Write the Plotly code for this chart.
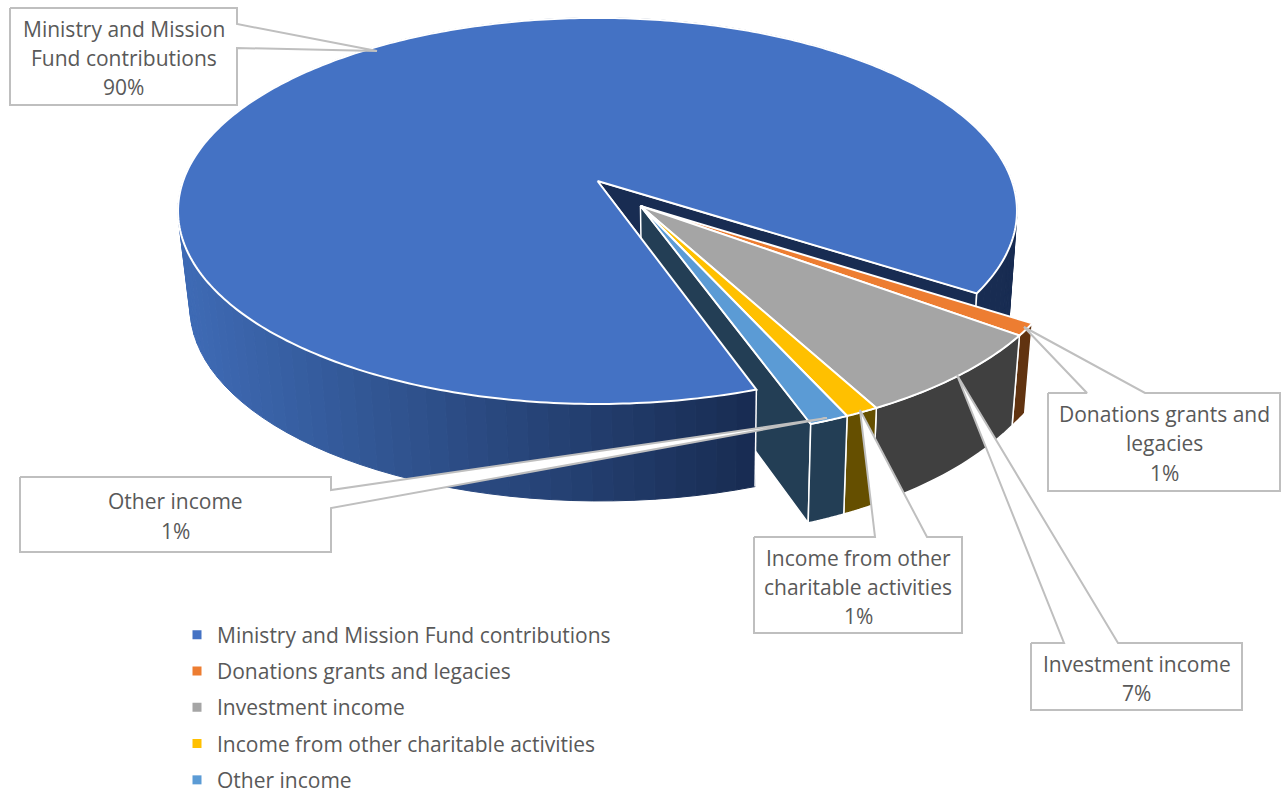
import numpy as np
import plotly.graph_objects as go

# ---- data ----
categories = ["Ministry and Mission Fund contributions", "Donations grants and legacies",
              "Investment income", "Income from other charitable activities", "Other income"]
shares = [89.5, 1.0, 7.1, 1.1, 1.3]
label_lines = [["Ministry and Mission", "Fund contributions"], ["Donations grants and", "legacies"],
               ["Investment income"], ["Income from other", "charitable activities"], ["Other income"]]
top_colors = ["#4472C4", "#ED7D31", "#A5A5A5", "#FFC000", "#5B9BD5"]
wall_colors = ["#182C52", "#613310", "#404040", "#654F00", "#233E55"]

# ---- projection of the tilted pie ----
FIRST_ANGLE = 160.9
CX, CY, A, B, K = 597.5, 181.0, 414.4, 188.4, 0.155
EXPLODE = 0.165
FONT = "Open Sans"
FS = 21
TXT = "#595959"
BORDER = "#BFBFBF"


def project(u, v):
    u, v = np.asarray(u, float), np.asarray(v, float)
    s = 1 / (1 - K * v)
    return CX + A * u * s, CY + B * v * s


def arc(a0, a1, ou=0.0, ov=0.0, n=2):
    t = np.radians(np.linspace(a0, a1, n))
    return project(ou + np.sin(t), ov - np.cos(t))


def lower(x, y, main=True):
    x, y = np.asarray(x, float), np.asarray(y, float)
    h = 97.0 if main else 90 + np.maximum(0, y - 335) * 0.1
    return 16.1 + 0.977 * x, y + h


fig = go.Figure()


def poly(x, y, fill, line=None, width=1.0):
    fig.add_trace(go.Scatter(x=list(x), y=list(y), mode="lines", fill="toself", fillcolor=fill,
                             line=dict(color=line or fill, width=width, simplify=False),
                             hoverinfo="skip", showlegend=False))


def side(x0, y0, x1, y1, fill, main=True, line=None, width=1.0):
    bx0, by0 = lower(x0, y0, main)
    bx1, by1 = lower(x1, y1, main)
    poly([x0, x1, bx1, bx0, x0], [y0, y1, by1, by0, y0], fill, line, width)


def wall_shade(x):
    f = float(np.clip((x - 185) / (750 - 185), 0, 1))
    c0, c1 = (62, 106, 180), (24, 44, 82)
    return "rgb(%d,%d,%d)" % tuple(round(a + (b - a) * f) for a, b in zip(c0, c1))


# slice angles
sweep = [s / sum(shares) * 360 for s in shares]
starts = [FIRST_ANGLE + sum(sweep[:i]) for i in range(len(sweep))]
main_a0, main_a1 = starts[0], starts[0] + sweep[0]
group_mid = (main_a1 + FIRST_ANGLE + 360) / 2
gu = EXPLODE * np.sin(np.radians(group_mid))
gv = -EXPLODE * np.cos(np.radians(group_mid))
ax, ay = project(0, 0)
gx, gy = project(gu, gv)

# main slice: cut walls
for ang in (main_a1, main_a0):
    ex, ey = arc(ang, ang)
    side(ax, ay, ex[0], ey[0], wall_colors[0], True, "white", 1.5)

# end wall of the detached group (last slice colour)
ex, ey = arc(FIRST_ANGLE + 360, FIRST_ANGLE + 360, gu, gv)
side(gx, gy, ex[0], ey[0], wall_colors[4], False, "white", 1.5)

# main slice: outer wall, shaded strip by strip
edges = np.linspace(main_a0, main_a1, 130)
for a0, a1 in zip(edges[:-1], edges[1:]):
    x, y = arc(a0, a1)
    side(x[0], y[0], x[1], y[1], wall_shade((x[0] + x[1]) / 2), True)
for ang in (main_a0, main_a1):
    x, y = arc(ang, ang)
    bx, by = lower(x, y)
    fig.add_trace(go.Scatter(x=[x[0], bx[0]], y=[y[0], by[0]], mode="lines",
                             line=dict(color="white", width=1.5), hoverinfo="skip", showlegend=False))

# detached slices: outer walls
for i in range(1, 5):
    x, y = arc(starts[i], starts[i] + sweep[i], gu, gv, 24)
    bx, by = lower(x, y, False)
    poly(list(x) + list(bx[::-1]) + [x[0]], list(y) + list(by[::-1]) + [y[0]],
         wall_colors[i], "white", 1.5)

# tops
x, y = arc(main_a0, main_a1, n=400)
poly([ax] + list(x) + [ax], [ay] + list(y) + [ay], top_colors[0], "white", 2)
for i in range(1, 5):
    x, y = arc(starts[i], starts[i] + sweep[i], gu, gv, 40)
    poly([gx] + list(x) + [gx], [gy] + list(y) + [gy], top_colors[i], "white", 2)

# ---- callouts: box + wedge leader ----
callouts = [
    dict(box=(10, 8, 237, 105), path=[(237, 24), (377, 51), (237, 48)], side="r", cy=[29, 58, 87]),
    dict(box=(1048, 393, 1280, 491), path=[(1087, 393), (1024, 327), (1145, 393)], side="t", cy=[414, 443, 473]),
    dict(box=(1031, 643, 1242, 710), path=[(1064, 643), (957, 375), (1118, 643)], side="t", cy=[664, 693]),
    dict(box=(754, 537, 962, 633), path=[(875, 537), (860, 410), (927, 537)], side="t", cy=[558, 587, 616]),
    dict(box=(20, 477, 331, 552), path=[(331, 490), (827, 418), (331, 508)], side="r", cy=[501, 531]),
]
for share, lines, c in zip(shares, label_lines, callouts):
    x0, y0, x1, y1 = c["box"]
    if c["side"] == "r":
        pts = [(x0, y0), (x1, y0)] + c["path"] + [(x1, y1), (x0, y1), (x0, y0)]
    else:
        pts = [(x0, y0)] + c["path"] + [(x1, y0), (x1, y1), (x0, y1), (x0, y0)]
    poly([p[0] for p in pts], [p[1] for p in pts], "white", BORDER, 2)
    for text, ty in zip(lines + [f"{round(share)}%"], c["cy"]):
        fig.add_annotation(x=(x0 + x1) / 2, y=ty, text=text, showarrow=False, xanchor="center",
                           yanchor="middle", font=dict(family=FONT, size=FS, color=TXT))

# ---- legend ----
for name, col in zip(categories, top_colors):
    fig.add_trace(go.Scatter(x=[None], y=[None], mode="markers", name=name, legendgroup=name,
                             marker=dict(symbol="square", size=9, color=col)))

fig.update_layout(
    width=1287, height=794, margin=dict(l=0, r=0, t=0, b=0, autoexpand=False),
    paper_bgcolor="white", plot_bgcolor="white",
    xaxis=dict(range=[0, 1287], visible=False, fixedrange=True),
    yaxis=dict(range=[794, 0], visible=False, fixedrange=True),
    legend=dict(x=177 / 1287, xanchor="left", y=1 - 614.5 / 794, yanchor="top", tracegroupgap=6,
                font=dict(family=FONT, size=FS, color=TXT), bgcolor="rgba(0,0,0,0)",
                itemclick=False, itemdoubleclick=False),
    hovermode=False,
)
fig.write_html("out.html", config={"displayModeBar": False},
               post_script="document.body.style.margin='0';")
